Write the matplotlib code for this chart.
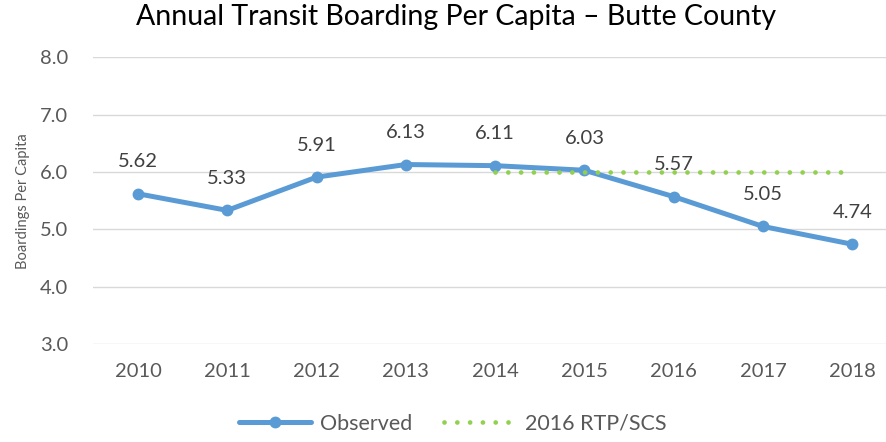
import matplotlib
matplotlib.use("Agg")
import matplotlib.pyplot as plt

years = ["2010", "2011", "2012", "2013", "2014", "2015", "2016", "2017", "2018"]
observed = [5.62, 5.33, 5.91, 6.13, 6.11, 6.03, 5.57, 5.05, 4.74]
rtp_years = ["2014", "2015", "2016", "2017", "2018"]
rtp = [6.0, 6.0, 6.0, 6.0, 6.0]
yticks = [3.0, 4.0, 5.0, 6.0, 7.0, 8.0]

plt.rcParams['font.family'] = ['Lato', 'DejaVu Sans']

fig = plt.figure(figsize=(8.86, 4.42), dpi=100)
ax = fig.add_axes([0.1053, 0.2217, 0.907, 0.6487])

gray = "#595959"
blue = "#5b9bd5"
green = "#92d050"

x = list(range(len(years)))
xr = [years.index(y) for y in rtp_years]

ax.plot(x, observed, color=blue, lw=3.6, marker='o', ms=7.5, solid_capstyle='round',
        label="Observed", zorder=3)
ax.plot(xr, rtp, color=green, lw=3.4, linestyle=(0, (0.01, 2.7)), dash_capstyle='round',
        label="2016 RTP/SCS", zorder=4)

for xi, v in zip(x, observed):
    ax.annotate(f"{v:.2f}", (xi, v), xytext=(0, 23), textcoords='offset points',
                ha='center', va='center', fontsize=14.5, color="#404040")

ax.set_xlim(-0.5, 8.5)
ax.set_ylim(3.0, 8.0)
ax.set_yticks(yticks)
ax.set_yticklabels([f"{t:.1f}" for t in yticks])
ax.set_xticks(x)
ax.set_xticklabels(years)
ax.tick_params(axis='both', length=0, labelsize=14.5, colors=gray)
ax.tick_params(axis='y', pad=18)
ax.tick_params(axis='x', pad=14)
ax.grid(axis='y', color="#d9d9d9", lw=1)
ax.set_axisbelow(True)
for s in ax.spines.values():
    s.set_visible(False)
ax.set_ylabel("Boardings Per Capita", fontsize=10.5, color=gray, labelpad=7)

fig.suptitle("Annual Transit Boarding Per Capita \u2013 Butte County", x=0.515, y=0.99,
             fontsize=20.5, color="black")

leg = fig.legend(loc='lower center', bbox_to_anchor=(0.511, -0.025), ncol=2, frameon=False,
                 fontsize=15.5, handlelength=3.35, columnspacing=1.5, handletextpad=0.4)
for t in leg.get_texts():
    t.set_color(gray)

fig.savefig("out.png", dpi=100)
